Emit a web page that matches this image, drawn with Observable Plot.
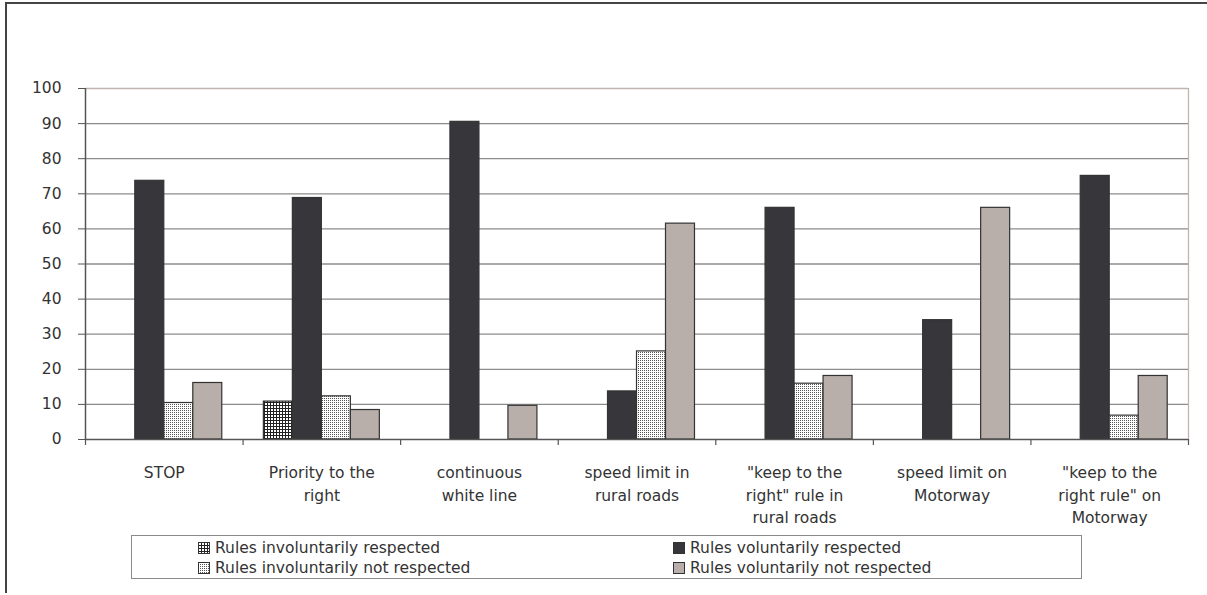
<!DOCTYPE html>
<html><head><meta charset="utf-8">
<script src="https://cdn.jsdelivr.net/npm/d3@7"></script>
<script src="https://cdn.jsdelivr.net/npm/@observablehq/plot@0.6"></script>
<style>
body{margin:0;background:#fff;}
#wrap{position:relative;width:1207px;height:595px;font-family:"DejaVu Sans",Verdana,sans-serif;color:#333;overflow:hidden;}
#frameTop{position:absolute;left:5px;top:2px;width:1202px;height:2px;background:#444;}
#frameLeft{position:absolute;left:5px;top:2px;width:2px;height:591px;background:#444;}
#legend{position:absolute;left:131px;top:535px;width:951px;height:44px;border:1px solid #8a8a8a;box-sizing:border-box;font-size:15.5px;color:#333;}
.item{position:absolute;display:flex;align-items:center;height:20px;white-space:nowrap;}
.item svg{margin-right:5px;}
#chart{position:absolute;left:0;top:0;}
</style></head>
<body>
<div id="wrap">
  <div id="chart"></div>
  <div id="frameTop"></div>
  <div id="frameLeft"></div>
  <div id="legend"></div>
</div>
<script>
const categories = ["STOP", "Priority to the\nright", "continuous\nwhite line", "speed limit in\nrural roads", "\"keep to the\nright\" rule in\nrural roads", "speed limit on\nMotorway", "\"keep to the\nright rule\" on\nMotorway"];
const seriesNames = ["Rules involuntarily respected", "Rules voluntarily respected", "Rules involuntarily not respected", "Rules voluntarily not respected"];
const invRespected    = [null, 10.8, null, null, null, null, null];
const volRespected    = [73.7, 68.8, 90.5, 13.7, 66.0, 34.0, 75.1];
const invNotRespected = [10.4, 12.3, null, 25.1, 15.9, null, 6.8];
const volNotRespected = [16.1, 8.4, 9.6, 61.5, 18.1, 66.0, 18.1];
const yTicks = [0, 10, 20, 30, 40, 50, 60, 70, 80, 90, 100];

const seriesValues = [invRespected, volRespected, invNotRespected, volNotRespected];
const fills = ["url(#patGrid)", "#37363b", "url(#patDots)", "#b8aeaa"];

const data = [];
seriesValues.forEach((vals, si) => vals.forEach((v, ci) => {
  if (v != null) data.push({ci, si, value: v, series: seriesNames[si]});
}));

const barFrac = 29 / 157.6; // bar width as fraction of a category slot
const left = d => d.ci + 0.5 + (d.si - 2) * barFrac;

const W = 1207, H = 595;
const chart = Plot.plot({
  width: W, height: H,
  marginLeft: 85, marginRight: 19, marginTop: 88, marginBottom: 156,
  style: {fontFamily: '"DejaVu Sans", Verdana, sans-serif', fontSize: "15.5px", color: "#333", background: "transparent"},
  x: {type: "linear", domain: [0, categories.length], axis: null, label: null},
  y: {domain: [0, 100], axis: null, label: null},
  marks: [
    Plot.ruleY(yTicks.filter(t => t > 0 && t < 100), {stroke: "#8c8c8c", strokeWidth: 1.3}),
    Plot.ruleY([100], {stroke: "#c2b4ae", strokeWidth: 1.3}),
    Plot.ruleX([categories.length], {y1: 0, y2: 100, stroke: "#c2b4ae", strokeWidth: 1.3}),
    Plot.rectY(data, {x1: left, x2: d => left(d) + barFrac, y: "value", fill: d => fills[d.si], stroke: "#333", strokeWidth: 1.2}),
    Plot.ruleY([0], {stroke: "#555", strokeWidth: 1.5}),
    Plot.ruleX([0], {y1: 0, y2: 100, stroke: "#555", strokeWidth: 1.5}),
    Plot.axisY({ticks: yTicks, label: null, tickSize: 7, tickPadding: 17, stroke: "#555", fill: "#333", tickFormat: d => String(d), fontSize: "15.5px"}),
    Plot.ruleX(d3.range(categories.length + 1), {y1: 0, y2: 0, insetBottom: -6, stroke: "#555", strokeWidth: 1.2}),
    Plot.text(categories, {x: (d, i) => i + 0.5, y: () => 0, text: d => d, lineAnchor: "top", dy: 23, lineHeight: 1.45, fill: "#333", fontSize: "15.5px"})
  ]
});

// pattern definitions
const ns = "http://www.w3.org/2000/svg";
const defs = document.createElementNS(ns, "defs");
defs.innerHTML = `
<pattern id="patGrid" width="3" height="3" patternUnits="userSpaceOnUse">
  <rect width="3" height="3" fill="#fff"/>
  <rect x="0" y="0" width="3" height="1" fill="#222"/>
  <rect x="0" y="0" width="1" height="3" fill="#222"/>
</pattern>
<pattern id="patDots" width="2" height="2" patternUnits="userSpaceOnUse">
  <rect width="2" height="2" fill="#fff"/>
  <rect x="0" y="0" width="1" height="1" fill="#555"/>
</pattern>`;
chart.insertBefore(defs, chart.firstChild);
document.getElementById("chart").appendChild(chart);

// legend (row-wise, two columns, like the original)
const legend = document.getElementById("legend");
const colX = [66, 541];
seriesNames.forEach((name, i) => {
  const item = document.createElement("div");
  item.className = "item";
  item.style.left = colX[i % 2] + "px";
  item.style.top = (2 + Math.floor(i / 2) * 20) + "px";
  item.innerHTML = `<svg width="12" height="12"><rect x="0.5" y="0.5" width="11" height="11" fill="${fills[i]}" stroke="#333"/></svg><span>${name}</span>`;
  legend.appendChild(item);
});
</script>
</body></html>
